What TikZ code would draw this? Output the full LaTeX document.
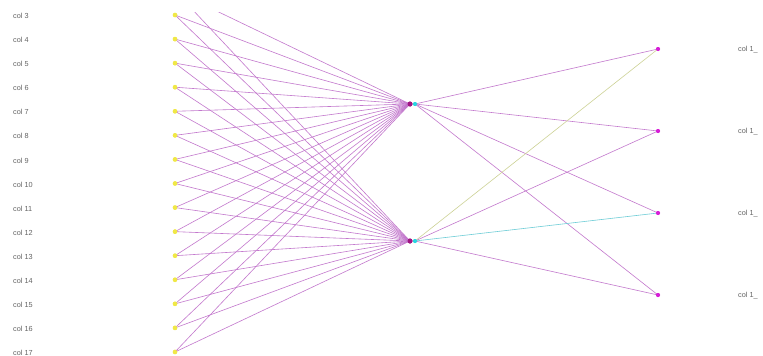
\documentclass[tikz,border=0pt]{standalone}
\usepackage{fontspec}
\setmainfont{Liberation Sans}
\definecolor{edgep}{RGB}{195,120,205}
\definecolor{edgey}{RGB}{205,210,150}
\definecolor{edgec}{RGB}{110,205,215}
\definecolor{nyel}{RGB}{240,232,70}
\definecolor{nmag}{RGB}{215,30,215}
\definecolor{nhid}{RGB}{160,20,130}
\definecolor{ncyan}{RGB}{40,215,225}
\definecolor{labgray}{RGB}{100,100,100}
\tikzset{
  inpt/.style={circle,fill=nyel,inner sep=0pt,minimum size=4.5pt},
  outpt/.style={circle,fill=nmag,inner sep=0pt,minimum size=4pt},
  hid/.style={circle,fill=nhid,inner sep=0pt,minimum size=5pt},
  hidc/.style={circle,fill=ncyan,inner sep=0pt,minimum size=4pt},
  lab/.style={font=\fontsize{7.3}{8}\selectfont,text=labgray,inner sep=0pt,anchor=west},
  pe/.style={draw=edgep,line width=0.6pt},
  ye/.style={draw=edgey,line width=0.6pt},
  ce/.style={draw=edgec,line width=0.6pt},
}
\begin{document}
\begin{tikzpicture}[x=1pt,y=-1pt]
\useasboundingbox (0,0) rectangle (763,356);
\fill[white] (0,0) rectangle (763,356);
\begin{scope}
\clip (0,12) rectangle (763,356);
% hidden nodes
\node[hid] (h1) at (410,104) {};
\node[hidc] (h1c) at (415,104) {};
\node[hid] (h2) at (410,241) {};
\node[hidc] (h2c) at (415,241) {};
% output nodes
\node[outpt] (o1) at (658,49) {};
\node[outpt] (o2) at (658,131) {};
\node[outpt] (o3) at (658,213) {};
\node[outpt] (o4) at (658,295) {};
% off-picture input above
\coordinate (c2) at (175,-9);
\draw[pe] (c2) -- (h1.center);
\draw[pe] (c2) -- (h2.center);
% input nodes
\foreach \i in {3,...,17}{
  \pgfmathsetmacro{\yy}{15+(\i-3)*24.07}
  \node[inpt] (i\i) at (175,\yy) {};
  \node[lab] (l\i) at (13,\yy+1) {col \i};
}
\foreach \i in {3,...,17}{
  \draw[pe] (i\i.center) -- (h1.center);
  \draw[pe] (i\i.center) -- (h2.center);
}
\foreach \i in {3,...,17}{ \node[inpt] at (i\i) {}; }
% hidden to output
\draw[pe] (h1c.center) -- (o1.center);
\draw[pe] (h1c.center) -- (o2.center);
\draw[pe] (h1c.center) -- (o3.center);
\draw[pe] (h1c.center) -- (o4.center);
\draw[ye] (h2c.center) -- (o1.center);
\draw[pe] (h2c.center) -- (o2.center);
\draw[ce] (h2c.center) -- (o3.center);
\draw[pe] (h2c.center) -- (o4.center);
\node[hid] at (h1) {};
\node[hidc] at (h1c) {};
\node[hid] at (h2) {};
\node[hidc] at (h2c) {};
\node[outpt] at (o1) {};
\node[outpt] at (o2) {};
\node[outpt] at (o3) {};
\node[outpt] at (o4) {};
% output labels
\node[lab] (r1) at (738,50) {col 1\_};
\node[lab] (r2) at (738,132) {col 1\_};
\node[lab] (r3) at (738,214) {col 1\_};
\node[lab] (r4) at (738,296) {col 1\_};
\end{scope}
\end{tikzpicture}
\end{document}
